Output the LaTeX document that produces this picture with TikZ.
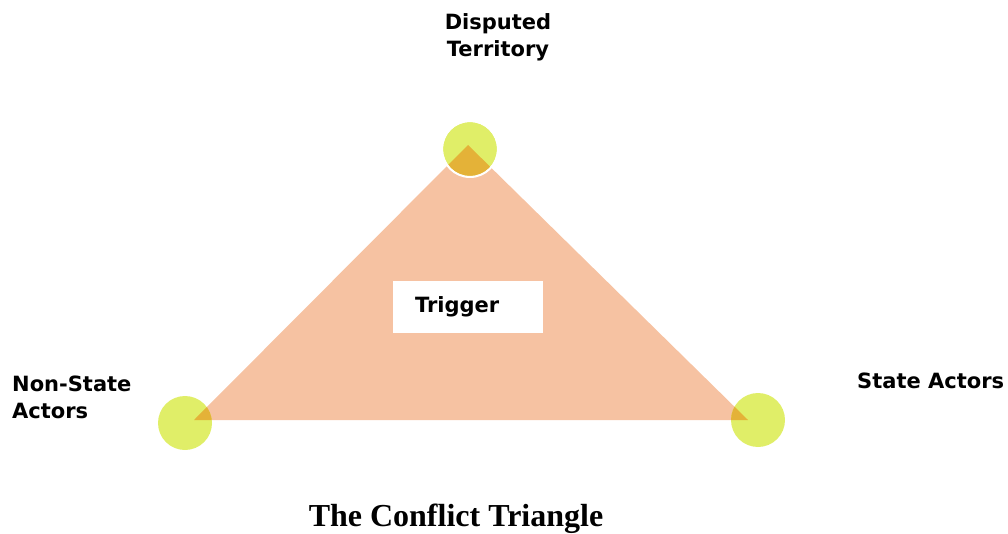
\documentclass[tikz,border=0pt]{standalone}
\usepackage{fontspec}
\setmainfont{Liberation Serif}
\newfontfamily\verd{DejaVu Sans}
\definecolor{peach}{RGB}{246,194,162}
\definecolor{lime}{RGB}{224,238,104}
\definecolor{ochre}{RGB}{228,178,56}
\tikzset{
  corner/.style={circle, fill=lime, minimum size=54pt, inner sep=0pt},
  tag/.style={font=\verd\bfseries\fontsize{21}{27}\selectfont, inner sep=0pt}
}

\begin{document}
\begin{tikzpicture}[x=1pt,y=-1pt]
    \useasboundingbox (0,0) rectangle (1008,534);
    \coordinate (a) at (468,145);
    \coordinate (b) at (194,420);
    \coordinate (c) at (748,420);
    \fill[peach] (a) -- (b) -- (c) -- cycle;
    \node[corner] (top) at (470,149) {};
    \node[corner] (left) at (185,423) {};
    \node[corner] (right) at (758,420) {};
    \begin{scope}
      \clip (a) -- (b) -- (c) -- cycle;
      \foreach \v in {top,left,right}
        \fill[ochre] (\v) circle (27);
    \end{scope}
    \draw[white, line width=2pt] (top) circle (28);
    \node[fill=white, minimum width=150pt, minimum height=52pt] (box) at (468,307) {};
    \node[tag, anchor=west] (trigger) at ([xshift=22pt]box.west) {Trigger};
    \node[tag, align=center] (terr) at (498,37) {Disputed\\Territory};
    \node[tag, align=left, anchor=west] (nonstate) at (12,397) {Non-State\\Actors};
    \node[tag, anchor=base west] (state) at (857,388) {State Actors};
    \node[font=\bfseries\fontsize{32}{36}\selectfont, anchor=base, inner sep=0pt] (title) at (456,526) {The Conflict Triangle};
\end{tikzpicture}
\end{document}
